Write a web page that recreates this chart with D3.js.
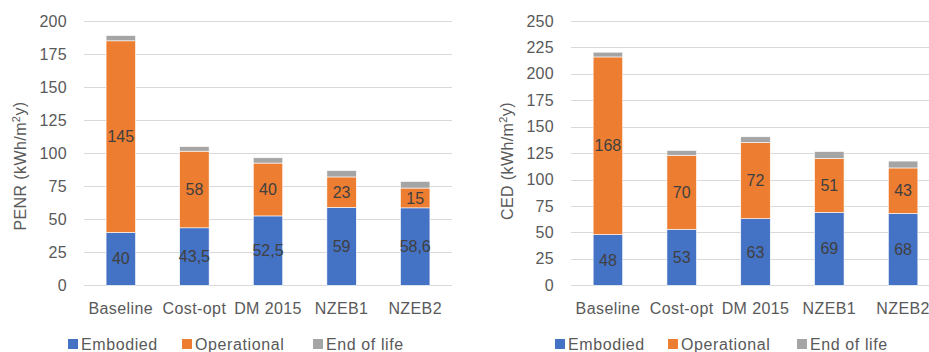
<!DOCTYPE html>
<html>
<head>
<meta charset="utf-8">
<script src="https://cdn.jsdelivr.net/npm/d3@7/dist/d3.min.js"></script>
<style>
  html, body { margin: 0; padding: 0; background: #fff; }
  svg { display: block; font-family: "Liberation Sans", Arial, sans-serif; }
</style>
</head>
<body>
<svg id="chart" width="929" height="352"></svg>
<script>
// Scenarios shown on both panels
const categories = ["Baseline", "Cost-opt", "DM 2015", "NZEB1", "NZEB2"];
const seriesNames = ["Embodied", "Operational", "End of life"];
const seriesColors = ["#4472C4", "#ED7D31", "#A5A5A5"];

// Non-renewable primary energy (PENR)
const penrEmbodied    = [40, 43.5, 52.5, 59, 58.6];
const penrOperational = [145, 58, 40, 23, 15];
const penrEndOfLife   = [4, 3.5, 4, 4.8, 5];
const penrTicks = [0, 25, 50, 75, 100, 125, 150, 175, 200];

// Cumulative energy demand (CED)
const cedEmbodied    = [48, 53, 63, 69, 68];
const cedOperational = [168, 70, 72, 51, 43];
const cedEndOfLife   = [4.5, 4.5, 5.5, 6.5, 6.5];
const cedTicks = [0, 25, 50, 75, 100, 125, 150, 175, 200, 225, 250];

const fmt = v => String(v).replace(".", ",");
const svg = d3.select("#chart");

function panel(opts) {
  const g = svg.append("g");
  const x = d3.scaleBand().domain(categories)
    .range([opts.x0, opts.x1]).paddingInner(0.6).paddingOuter(0.3);
  const y = d3.scaleLinear().domain([0, opts.max]).range([285.3, 21]);

  // horizontal gridlines
  g.append("g").selectAll("line").data(opts.ticks).join("line")
    .attr("x1", opts.x0).attr("x2", opts.x1)
    .attr("y1", d => Math.round(y(d)) + 0.5).attr("y2", d => Math.round(y(d)) + 0.5)
    .attr("stroke", "#d9d9d9").attr("stroke-width", 1);

  // y tick labels
  g.append("g").selectAll("text").data(opts.ticks).join("text")
    .attr("x", opts.tickX).attr("y", d => y(d)).attr("dy", "0.35em")
    .attr("text-anchor", "end").attr("fill", "#595959")
    .attr("font-size", 16).attr("letter-spacing", 0.3)
    .text(d => d);

  // stacked bars
  const values = [opts.emb, opts.op, opts.eol];
  const rows = categories.map((c, i) => ({
    cat: c, idx: i, Embodied: opts.emb[i], Operational: opts.op[i], "End of life": opts.eol[i]
  }));
  const stack = d3.stack().keys(seriesNames)(rows);
  const layers = g.append("g").selectAll("g").data(stack).join("g")
    .attr("fill", (d, i) => seriesColors[i]);
  layers.selectAll("rect").data(d => d).join("rect")
    .attr("x", d => x(d.data.cat))
    .attr("width", x.bandwidth())
    .attr("y", d => y(d[1]))
    .attr("height", d => y(d[0]) - y(d[1]))
    .attr("stroke", "#fff").attr("stroke-width", 0.6);

  // value labels for the embodied and operational segments
  stack.slice(0, 2).forEach((layer, s) => {
    g.append("g").selectAll("text").data(layer).join("text")
      .attr("x", d => x(d.data.cat) + x.bandwidth() / 2)
      .attr("y", d => y((d[0] + d[1]) / 2)).attr("dy", "0.35em")
      .attr("text-anchor", "middle").attr("fill", "#404040")
      .attr("font-size", 16)
      .text(d => fmt(values[s][d.data.idx]));
  });

  // category labels
  g.append("g").selectAll("text").data(categories).join("text")
    .attr("x", d => x(d) + x.bandwidth() / 2).attr("y", 308).attr("dy", "0.35em")
    .attr("text-anchor", "middle").attr("fill", "#595959")
    .attr("font-size", 16).attr("letter-spacing", 0.4)
    .text(d => d);

  // axis title
  const t = g.append("text")
    .attr("transform", `translate(${opts.titleX},${opts.titleY}) rotate(-90)`)
    .attr("text-anchor", "middle").attr("dy", "0.35em")
    .attr("fill", "#595959").attr("font-size", 16).attr("letter-spacing", 0.4);
  t.append("tspan").text(opts.title + " (kWh/m");
  t.append("tspan").attr("font-size", 11).attr("dy", "-0.5em").text("2");
  t.append("tspan").attr("dy", "0.33em").text("y)");

  // legend
  const lg = g.append("g").selectAll("g").data(seriesNames).join("g")
    .attr("transform", (d, i) => `translate(${opts.legendX[i]},344)`);
  lg.append("rect").attr("x", 0).attr("y", -5).attr("width", 10).attr("height", 10)
    .attr("fill", (d, i) => seriesColors[i]);
  lg.append("text").attr("x", 13).attr("dy", "0.35em")
    .attr("fill", "#595959").attr("font-size", 16).attr("letter-spacing", 0.6)
    .text(d => d);
}

panel({
  x0: 84, x1: 452, max: 200, ticks: penrTicks, tickX: 67,
  emb: penrEmbodied, op: penrOperational, eol: penrEndOfLife,
  title: "PENR", titleX: 20, titleY: 166,
  legendX: [68, 182, 313]
});

panel({
  x0: 571, x1: 940, max: 250, ticks: cedTicks, tickX: 554,
  emb: cedEmbodied, op: cedOperational, eol: cedEndOfLife,
  title: "CED", titleX: 507, titleY: 161,
  legendX: [555, 668, 797]
});
</script>
</body>
</html>
